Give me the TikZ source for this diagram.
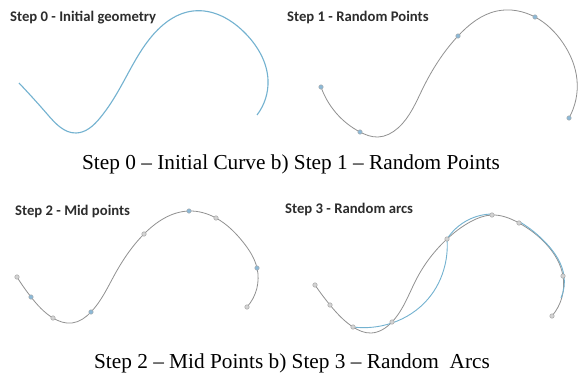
\documentclass[tikz,border=0pt]{standalone}
\usepackage{fontspec}
\setmainfont{Liberation Serif}
\newfontfamily\titlefont{Carlito}
\usetikzlibrary{hobby}
\definecolor{curveblue}{RGB}{115,178,208}
\definecolor{curvegray}{RGB}{145,145,145}
\definecolor{dotblue}{RGB}{140,185,215}
\definecolor{titlegray}{RGB}{45,45,45}
\begin{document}
\begin{tikzpicture}[x=1pt,y=-1pt,
  paneltitle/.style={anchor=base west,inner sep=0pt,font=\titlefont\bfseries\fontsize{14.7}{16}\selectfont,text=titlegray},
  caption/.style={anchor=base,inner sep=0pt,font=\fontsize{21.3}{24}\selectfont},
  bluecurve/.style={draw=curveblue,line width=1.1pt,use Hobby shortcut},
  graycurve/.style={draw=curvegray,line width=0.8pt,use Hobby shortcut},
  bdot/.style={circle,draw=curvegray!80,fill=dotblue,line width=0.4pt,inner sep=0pt,minimum size=4.5pt},
  gdot/.style={circle,draw=curvegray!90,fill=curvegray!40,line width=0.4pt,inner sep=0pt,minimum size=4.5pt}]
\useasboundingbox[fill=white] (0,0) rectangle (580,383);

% titles
\node[paneltitle] (t0) at (10,21.7) {Step 0 - Initial geometry};
\node[paneltitle] (t1) at (287,21.7) {Step 1 - Random Points};
\node[paneltitle] (t2) at (15,215.7) {Step 2 - Mid points};
\node[paneltitle] (t3) at (285,213) {Step 3 - Random arcs};

% captions
\node[caption] (c1) at (291,169) {Step 0 -- Initial Curve b) Step 1 -- Random Points};
\node[caption] (c2) at (292,368) {Step 2 -- Mid Points b) Step 3 -- Random\ \ Arcs};

% Step 0
\draw[bluecurve] (19,83) .. (48,115) .. (76,133) .. (100,118) .. (120,88) .. (152,36) .. (193,11) .. (246,34) .. (268,80) .. (257,115);

% Step 1
\draw[graycurve] (321,87) .. (360,132) .. (378,137) .. (398,128) .. (423,88) .. (458,36) .. (497,11) .. (535,17) .. (563,43) .. (577,80) .. (569,118);
\foreach \n/\p in {a/{(321,87)}, b/{(360,132)}, c/{(458,36)}, d/{(535,17)}, e/{(569,118)}}
  \node[bdot] (s1\n) at \p {};

% Step 2
\draw[graycurve] (17,277) .. (31,297) .. (53,318) .. (72,323) .. (91,312) .. (115,274) .. (144,234) .. (189,211) .. (216,218) .. (243,242) .. (257,268) .. (247,307);
\foreach \n/\p in {a/{(17,277)}, c/{(53,318)}, e/{(144,234)}, g/{(216,218)}, i/{(247,307)}}
  \node[gdot] (s2\n) at \p {};
\foreach \n/\p in {b/{(31,297)}, d/{(91,312)}, f/{(189,211)}, h/{(257,268)}}
  \node[bdot] (s2\n) at \p {};

% Step 3
\draw[graycurve] (315,285) .. (330,305) .. (353,327) .. (371,333) .. (392,322) .. (417,278) .. (447,239) .. (470,222) .. (492,215) .. (519,223) .. (547,245) .. (563,276) .. (552,316);
\draw[bluecurve,line width=0.9pt] (353,327) .. (392,323) .. (428,299) .. (445,265) .. (447,239);
\draw[bluecurve,line width=0.9pt] (447,239) .. (468,220) .. (492,214);
\draw[bluecurve,line width=0.9pt] (520,222) .. (546,243) .. (564,276) .. (561,298);
\foreach \n/\p in {a/{(315,285)}, b/{(330,305)}, c/{(353,327)}, d/{(392,322)}, e/{(447,239)}, f/{(492,215)}, g/{(519,223)}, h/{(563,276)}, i/{(552,316)}}
  \node[gdot] (s3\n) at \p {};
\end{tikzpicture}
\end{document}
